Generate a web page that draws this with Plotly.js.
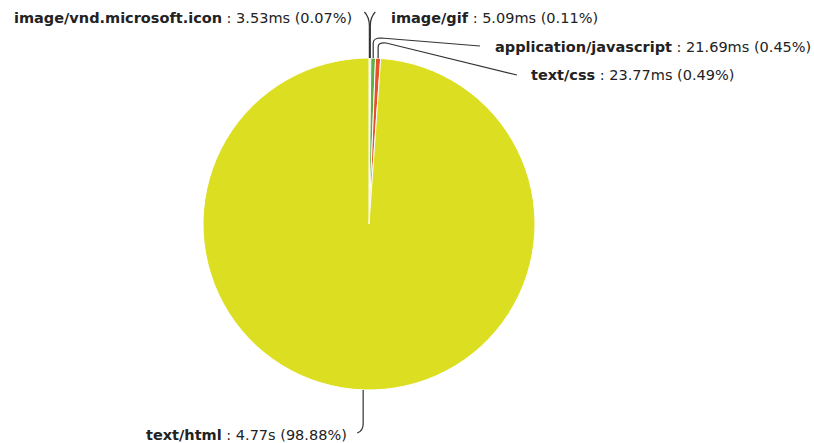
<!DOCTYPE html>
<html>
<head>
<meta charset="utf-8">
<script src="https://cdn.plot.ly/plotly-3.0.1.min.js"></script>
<style>html,body{margin:0;padding:0;background:#fff;}#chart{width:814px;height:443px;}</style>
</head>
<body>
<div id="chart"></div>
<script>
// ---- data ----
const types = ["image/vnd.microsoft.icon", "image/gif", "application/javascript", "text/css", "text/html"];
const timesMs = [3.53, 5.09, 21.69, 23.77, 4770];
const sliceColors = ["#3a3a3a", "#8a8a8a", "#5cb043", "#e8502a", "#dcdf21"];

// ---- layout helpers (pixel -> paper) ----
const W = 814, H = 443;
const cx = 369, cy = 224, R = 166;
const px = x => x / W;
const py = y => 1 - y / H;

const total = timesMs.reduce((a, b) => a + b, 0);
const fmtTime = v => v >= 1000 ? (v / 1000).toFixed(2) + "s" : v.toFixed(2) + "ms";
const pct = v => (v / total * 100).toFixed(2) + "%";

// rim point at mid angle of each slice (clockwise from 12 o'clock)
let cum = 0;
const rim = timesMs.map(v => {
  const mid = (cum + v / 2) / total * 2 * Math.PI;
  cum += v;
  return [cx + R * Math.sin(mid), cy - R * Math.cos(mid)];
});

// label placement (pixels): [x, y, anchor]
const labelPos = [
  [354, 18, "right"],
  [389, 18, "left"],
  [493, 47, "left"],
  [529, 75, "left"],
  [349, 435, "right"]
];

function P(x, y) { return px(x).toFixed(5) + "," + py(y).toFixed(5); }
const paths = [];
// icon
{ const [x, y] = rim[0]; paths.push(`M${P(x, y)} L${P(x, 26)} Q${P(x, 17)} ${P(x - 5, 12)}`); }
// gif
{ const [x, y] = rim[1]; paths.push(`M${P(x, y)} L${P(x, 26)} Q${P(x, 17)} ${P(x + 5, 12)}`); }
// javascript
{ const [x, y] = rim[2]; paths.push(`M${P(x, y)} L${P(x, 43)} Q${P(x, 38)} ${P(x + 8, 38)} L${P(480, 46)}`); }
// css
{ const [x, y] = rim[3]; paths.push(`M${P(x, y)} L${P(x, 47)} Q${P(x, 42)} ${P(x + 8, 43)} L${P(517, 75)}`); }
// html
{ const [x, y] = rim[4]; paths.push(`M${P(x, y)} L${P(x, 424)} Q${P(x, 431)} ${P(x - 6, 433)}`); }

const shapes = paths.map(d => ({
  type: "path", xref: "paper", yref: "paper", path: d,
  line: { color: "#333", width: 1.2 }
}));

const annotations = types.map((t, i) => ({
  xref: "paper", yref: "paper",
  x: px(labelPos[i][0]), y: py(labelPos[i][1]),
  xanchor: labelPos[i][2], yanchor: "middle",
  showarrow: false,
  text: `<b>${t}</b> : ${fmtTime(timesMs[i])} (${pct(timesMs[i])})`,
  font: { family: "DejaVu Sans, Verdana, sans-serif", size: 14.5, color: "#222" }
}));

const trace = {
  type: "pie",
  labels: types,
  values: timesMs,
  sort: false,
  direction: "clockwise",
  rotation: 0,
  textinfo: "none",
  hoverinfo: "label+value+percent",
  marker: { colors: sliceColors, line: { color: "#ffffff", width: 1 } },
  domain: { x: [px(cx - R), px(cx + R)], y: [py(cy + R), py(cy - R)] },
  showlegend: false
};

Plotly.newPlot("chart", [trace], {
  width: W, height: H,
  margin: { l: 0, r: 0, t: 0, b: 0 },
  paper_bgcolor: "#fff",
  showlegend: false,
  shapes: shapes,
  annotations: annotations
}, { displayModeBar: false, staticPlot: true });
</script>
</body>
</html>
